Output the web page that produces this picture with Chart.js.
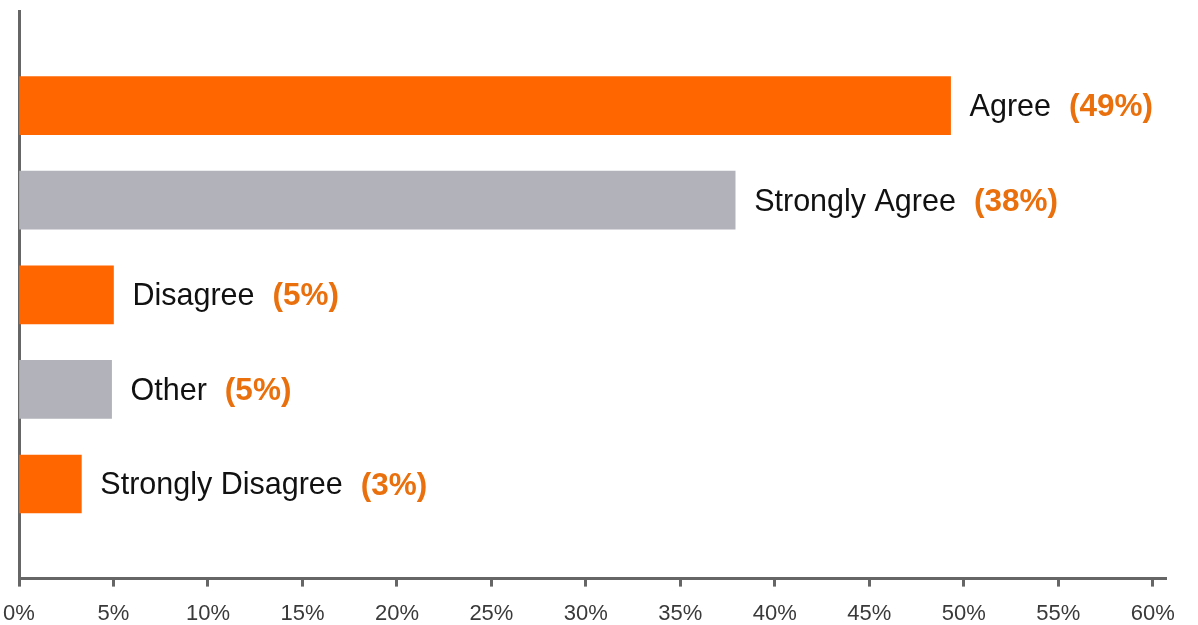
<!DOCTYPE html>
<html lang="en">
<head>
  <meta charset="UTF-8">
  <title>Survey responses</title>
  <script src="https://cdn.jsdelivr.net/npm/chart.js"></script>
  <style>
    html, body { margin: 0; padding: 0; background: #fff; }
    #wrap { width: 1198px; height: 625px; position: relative; }
  </style>
</head>
<body>
  <div id="wrap"><canvas id="surveyChart"></canvas></div>
  <script>
    // answers, top to bottom
    const categories = ['Agree', 'Strongly Agree', 'Disagree', 'Other', 'Strongly Disagree'];
    const shares = [49.3, 37.9, 5.0, 4.9, 3.3];
    const tickStep = 5;
    const tickMax = 60;
    const axisMax = 60.7;

    const ORANGE = '#ff6600';
    const GREY = '#b1b2ba';
    const PCT_COLOR = '#e9700c';
    const FONT = "'Liberation Sans', Arial, sans-serif";

    // blank slot above and below so the bars sit inside the axis span
    const labels = [''].concat(categories, ['']);
    const values = [null].concat(shares, [null]);
    const colors = labels.map((_, i) => (i % 2 === 1 ? ORANGE : GREY));

    const barLabels = {
      id: 'barLabels',
      afterDatasetsDraw(chart) {
        const ctx = chart.ctx;
        const meta = chart.getDatasetMeta(0);
        ctx.save();
        ctx.textBaseline = 'middle';
        ctx.textAlign = 'left';
        meta.data.forEach((bar, i) => {
          const v = values[i];
          if (v === null) return;
          const x = bar.x + 19;
          const y = bar.y + 2;
          ctx.font = '30.5px ' + FONT;
          ctx.fillStyle = '#111';
          ctx.fillText(labels[i], x, y);
          const w = ctx.measureText(labels[i]).width;
          ctx.font = 'bold 31.5px ' + FONT;
          ctx.fillStyle = PCT_COLOR;
          ctx.fillText('(' + Math.round(v) + '%)', x + w + 18, y);
        });
        ctx.restore();
      }
    };

    new Chart(document.getElementById('surveyChart'), {
      type: 'bar',
      data: {
        labels: labels,
        datasets: [{
          data: values,
          backgroundColor: colors,
          barThickness: 58,
          borderWidth: 0
        }]
      },
      options: {
        indexAxis: 'y',
        responsive: true,
        maintainAspectRatio: false,
        animation: false,
        layout: { padding: { left: 19, right: 32, top: 11, bottom: -16 } },
        plugins: {
          legend: { display: false },
          tooltip: { enabled: false }
        },
        scales: {
          x: {
            min: 0,
            max: axisMax,
            afterBuildTicks: s => {
              const t = [];
              for (let v = 0; v <= tickMax; v += tickStep) t.push({ value: v });
              s.ticks = t;
            },
            afterFit: s => { s.paddingLeft = 0; s.paddingRight = 0; },
            grid: {
              drawOnChartArea: false,
              drawTicks: true,
              tickLength: 8,
              tickWidth: 3,
              tickColor: '#666'
            },
            border: { display: true, color: '#666', width: 3 },
            ticks: {
              stepSize: tickStep,
              padding: 14,
              color: '#3a3a3a',
              font: { family: FONT, size: 22 },
              maxRotation: 0,
              autoSkip: false,
              callback: v => v + '%'
            }
          },
          y: {
            offset: false,
            grid: { display: false, drawTicks: false },
            border: { display: true, color: '#666', width: 3 },
            ticks: { display: false }
          }
        }
      },
      plugins: [barLabels]
    });
  </script>
</body>
</html>
